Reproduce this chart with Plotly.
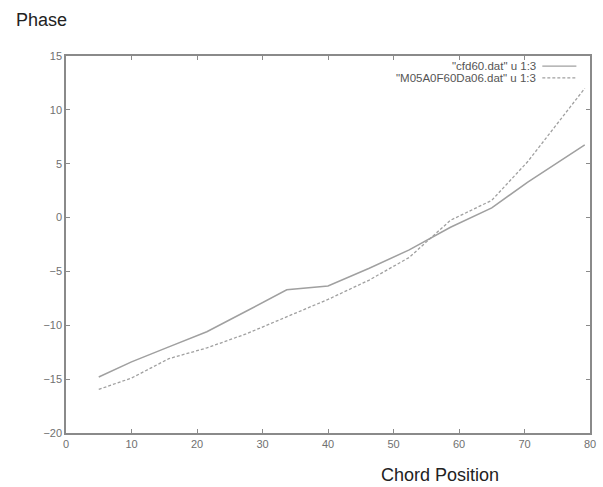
import plotly.graph_objects as go

chord = [5, 10, 15.7, 21.5, 27.5, 33.7, 40, 46.3, 52.4, 58.7, 65, 70.5, 79.2]
cfd60 = [-14.8, -13.4, -12.0, -10.6, -8.7, -6.7, -6.35, -4.7, -3.0, -0.9, 0.9, 3.3, 6.75]
m05 = [-15.95, -14.9, -13.1, -12.1, -10.8, -9.2, -7.6, -5.8, -3.7, -0.25, 1.6, 5.2, 12.0]
series_names = ['"cfd60.dat" u 1:3', '"M05A0F60Da06.dat" u 1:3']
x_ticks = [0, 10, 20, 30, 40, 50, 60, 70, 80]
y_ticks = [-20, -15, -10, -5, 0, 5, 10, 15]

line_color = "#a0a0a0"
axis_color = "#8a8a8a"
font_family = "Liberation Sans, Arial, sans-serif"

fig = go.Figure()
fig.add_trace(go.Scatter(x=chord, y=cfd60, mode="lines", name=series_names[0],
                         line=dict(color=line_color, width=1.5, dash="solid"), showlegend=False))
fig.add_trace(go.Scatter(x=chord, y=m05, mode="lines", name=series_names[1],
                         line=dict(color=line_color, width=1.3, dash="3px,2px"), showlegend=False))

axis_common = dict(showgrid=False, zeroline=False, showline=True, linecolor=axis_color,
                   linewidth=1.5, mirror="ticks", ticks="inside", ticklen=4, tickwidth=1,
                   tickcolor=axis_color, tickfont=dict(size=11, color="#707070", family=font_family))

fig.update_layout(
    width=603, height=487,
    margin=dict(l=66, r=7, t=56, b=54),
    paper_bgcolor="white", plot_bgcolor="white",
    xaxis=dict(range=[0, 80], tickvals=x_ticks, **axis_common),
    yaxis=dict(range=[-20, 15], tickvals=y_ticks, **axis_common),
)

# Legend emulation (gnuplot style: text right-aligned, sample line on the right)
leg_y = [0.973, 0.942]
dashes = ["solid", "3px,2px"]
for i, name in enumerate(series_names):
    fig.add_annotation(x=0.9, y=leg_y[i], xref="paper", yref="paper", text=name,
                       showarrow=False, xanchor="right", yanchor="middle",
                       font=dict(size=11.5, color="#555555", family=font_family))
    fig.add_shape(type="line", xref="paper", yref="paper", x0=0.909, x1=0.974,
                  y0=leg_y[i], y1=leg_y[i], line=dict(color=line_color, width=1.3, dash=dashes[i]))

fig.add_annotation(x=-0.1, y=1.095, xref="paper", yref="paper",
                   text="Phase", showarrow=False, xanchor="left", yanchor="middle",
                   font=dict(size=18, color="#222222", family=font_family))
fig.add_annotation(x=0.713, y=-0.111, xref="paper", yref="paper",
                   text="Chord Position", showarrow=False, xanchor="center", yanchor="middle",
                   font=dict(size=18, color="#222222", family=font_family))

fig.write_html("out.html", config={"displayModeBar": False},
               post_script="document.body.style.margin='0';")
